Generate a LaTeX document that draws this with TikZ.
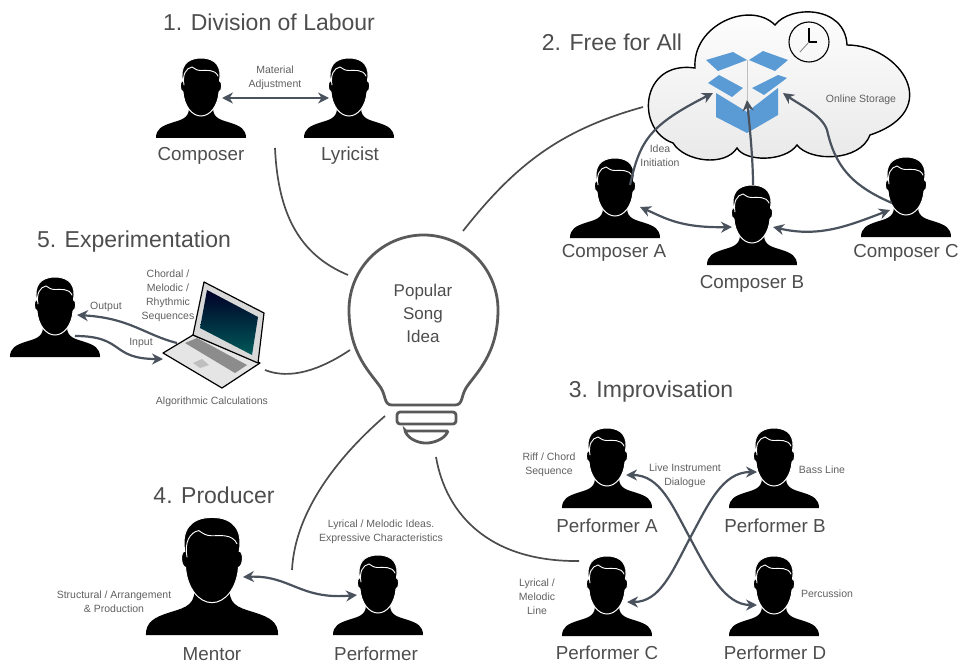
\documentclass[tikz,border=0pt]{standalone}
\usepackage{fontspec}
\setmainfont{Liberation Sans}
\usepackage{xcolor}
\usetikzlibrary{arrows.meta}
\definecolor{arrowgrey}{HTML}{4A525E}
\definecolor{txtgrey}{HTML}{4D4D4D}
\definecolor{smallgrey}{HTML}{606060}
\definecolor{boxblue}{HTML}{5B9BD5}
\tikzset{
	person/.pic={
		\fill[black] (-45,0) .. controls (-45,-9) and (-39,-12) .. (-30,-15) .. controls (-21,-18) and (-12,-19) .. (-12,-30) -- (12,-30) .. controls (12,-19) and (21,-18) .. (30,-15) .. controls (39,-12) and (45,-9) .. (45,0) -- cycle;
		\filldraw[black,draw=white,line width=1pt] (0,-80) .. controls (-15,-80) and (-21,-71) .. (-18.5,-57) .. controls (-21.5,-57) and (-21.5,-47) .. (-18,-46) .. controls (-17,-32) and (-9,-22) .. (0,-22) .. controls (9,-22) and (17,-32) .. (18,-46) .. controls (21.5,-47) and (21.5,-57) .. (18.5,-57) .. controls (21,-71) and (15,-80) .. (0,-80) -- cycle;
		\draw[white,line width=0.9pt,line cap=round] (-17,-53) .. controls (-19,-63) and (-15,-70) .. (-9,-71) .. controls (-6,-69) and (-4,-67.5) .. (0,-67.5) .. controls (5,-67.5) and (14,-69) .. (17,-62);
	},
	title/.style={font=\fontsize{23}{26}\selectfont,text=txtgrey},
	caption/.style={font=\fontsize{18.8}{20}\selectfont,text=txtgrey,inner sep=0pt},
	small/.style={font=\fontsize{10.5}{14}\selectfont,text=smallgrey,align=center},
	link/.style={draw=arrowgrey,line width=2.2pt,-{Stealth[length=11pt,width=11pt]}},
	duallink/.style={draw=arrowgrey,line width=2.2pt,{Stealth[length=11pt,width=11pt]}-{Stealth[length=11pt,width=11pt]}},
	branch/.style={draw=black!70,line width=1.7pt},
	bulbline/.style={draw=black!65,line width=2.8pt}
}
\begin{document}
\begin{tikzpicture}[x=1pt,y=-1pt]
	\useasboundingbox (0,0) rectangle (960,663);
	% cloud
	\filldraw[draw=black,line width=1.4pt,top color=white,bottom color=black!9] (695,68) .. controls (692,25) and (750,0) .. (775,25) .. controls (790,5) and (845,5) .. (847,45) .. controls (900,45) and (945,110) .. (870,135) .. controls (860,162) and (810,162) .. (797,145) .. controls (785,162) and (745,162) .. (737,148) .. controls (725,167) and (685,162) .. (673,143) .. controls (635,130) and (640,60) .. (695,68) -- cycle;
	% clock
	\draw[black,line width=1.1pt] (809,42) circle (20);
	\draw[black,line width=1.1pt] (809,28) -- (809,42) -- (817,42);
	\draw[black!50,line width=0.8pt] (809,42) -- (800,52);
	% box
	\fill[boxblue] (716,93) -- (747,112) -- (778,88) -- (778,115) -- (747,133) -- (716,117) -- cycle;
	\fill[boxblue] (706,60) -- (733,52) -- (747,60) -- (718,71) -- cycle;
	\fill[boxblue] (749,60) -- (763,51) -- (788,60) -- (775,71) -- cycle;
	\fill[boxblue] (708,83) -- (719,75) -- (743,88) -- (732,97) -- cycle;
	\fill[boxblue] (752,88) -- (778,75) -- (787,78) -- (764,95) -- cycle;
	\draw[black!25,line width=0.5pt] (747,60) -- (747,100);
	% bulb
	\draw[bulbline] (392,405) .. controls (384,405) and (386,396) .. (381,388) .. controls (372,374) and (349,355) .. (349,310) .. controls (349,268) and (383,235) .. (423.5,235) .. controls (464,235) and (498,268) .. (498,310) .. controls (498,355) and (475,374) .. (466,388) .. controls (461,396) and (463,405) .. (455,405) -- cycle;
	\draw[bulbline,rounded corners=3pt] (397,412) rectangle (456,424);
	\draw[bulbline,rounded corners=1pt] (405,431) -- (448,431) .. controls (444,440) and (432,443) .. (426,443) .. controls (420,443) and (409,440) .. (405,431) -- cycle;
	\node[font=\fontsize{17}{23}\selectfont,text=txtgrey,align=center] (idea) at (423,313) {Popular\\Song\\Idea};
	% people
	\pic at (201,138) {person};
	\pic at (349,138) {person};
	\pic at (615,238) {person};
	\pic at (752,265) {person};
	\pic at (906,237) {person};
	\pic at (55,357) {person};
	\pic[scale=1.47] at (212,635) {person};
	\pic at (378,635) {person};
	\pic at (607,508) {person};
	\pic at (774,508) {person};
	\pic at (607,636) {person};
	\pic at (774,636) {person};
	% laptop
	\filldraw[draw=black,line width=1.2pt,fill=black!10,line join=round] (163,353) -- (193,335) -- (260,363) -- (222,388) -- cycle;
	\filldraw[draw=black,line width=1.2pt,fill=black!15,line join=round] (193,335) -- (204,282) -- (264,313) -- (258,363) -- cycle;
	\shade[top color=black!85!blue,bottom color=teal!70!black] (207,290) -- (258,317) -- (252,355) -- (200,328) -- cycle;
	\fill[black!45] (185,343) -- (197,338) -- (247,365) -- (235,373) -- cycle;
	\fill[black!25] (193,363) -- (202,359) -- (209,365) -- (200,368) -- cycle;
	% titles
	\node[title] (t1) at (269,22) {1. Division of Labour};
	\node[title] (t2) at (612,42) {2. Free for All};
	\node[title] (t3) at (651,392) {3. Improvisation};
	\node[title] (t4) at (214,495) {4. Producer};
	\node[title] (t5) at (134,242) {5. Experimentation};
	% names
	\node[caption] (composer) at (201,156) {Composer};
	\node[caption] (lyricist) at (350,156) {Lyricist};
	\node[caption] (composera) at (614,253) {Composer A};
	\node[caption] (composerb) at (752,284) {Composer B};
	\node[caption] (composerc) at (906,253) {Composer C};
	\node[caption] (mentor) at (212,654) {Mentor};
	\node[caption] (performer) at (376,654) {Performer};
	\node[caption] (performera) at (607,526) {Performer A};
	\node[caption] (performerb) at (775,526) {Performer B};
	\node[caption] (performerc) at (607,653) {Performer C};
	\node[caption] (performerd) at (775,653) {Performer D};
	% small labels
	\node[small] (material) at (275,78) {Material\\Adjustment};
	\node[small] (initiation) at (660,156) {Idea\\Initiation};
	\node[small] (storage) at (861,100) {Online Storage};
	\node[small] (sequences) at (168,296) {Chordal /\\Melodic /\\Rhythmic\\Sequences};
	\node[small] (output) at (106,307) {Output};
	\node[small] (input) at (141,343) {Input};
	\node[small] (algo) at (212,402) {Algorithmic Calculations};
	\node[small] (ideas) at (381,532) {Lyrical / Melodic Ideas.\\Expressive Characteristics};
	\node[small] (arrange) at (114,602) {Structural / Arrangement\\\& Production};
	\node[small] (riff) at (549,465) {Riff / Chord\\Sequence};
	\node[small] (dialogue) at (685,476) {Live Instrument\\Dialogue};
	\node[small] (bass) at (822,470) {Bass Line};
	\node[small] (perc) at (827,594) {Percussion};
	\node[small] (melodic) at (537,597) {Lyrical /\\Melodic\\Line};
	% anchors of the connectors
	\coordinate (p1) at (222,98);
	\coordinate (p2) at (329,98);
	\coordinate (a1) at (630,185);
	\coordinate (box1) at (713,93);
	\coordinate (b1) at (753,185);
	\coordinate (box2) at (747,100);
	\coordinate (c1) at (892,203);
	\coordinate (box3) at (783,93);
	\coordinate (a2) at (640,207);
	\coordinate (b2) at (732,227);
	\coordinate (b3) at (773,227);
	\coordinate (c2) at (890,210);
	\coordinate (lap1) at (177,343);
	\coordinate (e1) at (77,315);
	\coordinate (e2) at (75,336);
	\coordinate (lap2) at (163,359);
	\coordinate (m1) at (243,577);
	\coordinate (m2) at (357,595);
	\coordinate (pa) at (626,475);
	\coordinate (pd) at (757,605);
	\coordinate (pb) at (757,472);
	\coordinate (pc) at (627,602);
	\coordinate (cross) at (690,538);
	\coordinate (s1a) at (275,148);
	\coordinate (s1b) at (348,275);
	\coordinate (s2a) at (643,107);
	\coordinate (s2b) at (463,231);
	\coordinate (s3a) at (436,457);
	\coordinate (s3b) at (579,561);
	\coordinate (s4a) at (385,416);
	\coordinate (s4b) at (292,570);
	\coordinate (s5a) at (265,370);
	\coordinate (s5b) at (350,350);
	% arrows
	\draw[duallink] (p1) -- (p2);
	\draw[link] (a1) .. controls (640,140) and (650,125) .. (box1);
	\draw[link] (b1) .. controls (753,160) and (750,130) .. (box2);
	\draw[link] (c1) .. controls (850,185) and (835,165) .. (827,130) .. controls (822,115) and (800,105) .. (box3);
	\draw[duallink] (a2) .. controls (665,218) and (680,228) .. (b2);
	\draw[duallink] (b3) .. controls (820,238) and (850,225) .. (c2);
	\draw[link] (lap1) .. controls (145,335) and (130,318) .. (e1);
	\draw[link] (e2) .. controls (125,336) and (110,359) .. (lap2);
	\draw[duallink] (m1) .. controls (290,575) and (300,600) .. (m2);
	\draw[duallink] (pa) .. controls (660,475) and (672,505) .. (cross) .. controls (708,572) and (725,605) .. (pd);
	\draw[duallink] (pb) .. controls (722,472) and (708,505) .. (cross) .. controls (672,572) and (660,602) .. (pc);
	% branches
	\draw[branch] (s1a) .. controls (278,215) and (300,255) .. (s1b);
	\draw[branch] (s2a) .. controls (560,130) and (515,165) .. (s2b);
	\draw[branch] (s3a) .. controls (446,515) and (490,562) .. (s3b);
	\draw[branch] (s4a) .. controls (340,455) and (295,510) .. (s4b);
	\draw[branch] (s5a) .. controls (290,380) and (320,370) .. (s5b);
\end{tikzpicture}
\end{document}
